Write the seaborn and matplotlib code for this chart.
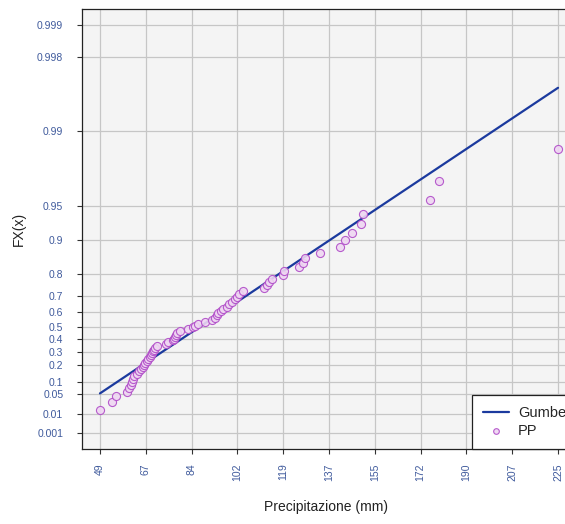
import numpy as np
import matplotlib
matplotlib.use("Agg")
import matplotlib.pyplot as plt
import pandas as pd
import seaborn as sns

# sample values (mm) with their plotting positions
pp_x = [49.0, 53.7, 55.1, 59.3, 60.1, 60.8, 61.4, 61.8, 62.2, 63.1,
        64.0, 64.8, 65.6, 65.9, 66.3, 66.9, 67.6, 68.2, 68.6, 68.9,
        69.5, 69.8, 70.1, 71.0, 74.4, 75.2, 77.2, 77.5, 77.8, 78.2,
        78.7, 79.7, 82.9, 84.6, 85.5, 86.8, 89.4, 91.9, 93.2, 93.8,
        94.5, 95.5, 96.4, 97.7, 98.6, 99.6, 100.9, 101.7, 102.5, 104.1,
        112.0, 113.1, 114.0, 115.0, 119.4, 119.8, 125.5, 127.1, 127.9, 133.6,
        141.4, 143.2, 145.7, 149.3, 150.1, 176.0, 179.2, 225.0]
pp_f = [0.0145, 0.0290, 0.0435, 0.0580, 0.0725, 0.0870, 0.1014, 0.1159, 0.1304, 0.1449,
        0.1594, 0.1739, 0.1884, 0.2029, 0.2174, 0.2319, 0.2464, 0.2609, 0.2754, 0.2899,
        0.3043, 0.3188, 0.3333, 0.3478, 0.3623, 0.3768, 0.3913, 0.4058, 0.4203, 0.4348,
        0.4493, 0.4638, 0.4783, 0.4928, 0.5072, 0.5217, 0.5362, 0.5507, 0.5652, 0.5797,
        0.5942, 0.6087, 0.6232, 0.6377, 0.6522, 0.6667, 0.6812, 0.6957, 0.7101, 0.7246,
        0.7391, 0.7536, 0.7681, 0.7826, 0.7971, 0.8116, 0.8261, 0.8406, 0.8551, 0.8696,
        0.8841, 0.8986, 0.9130, 0.9275, 0.9420, 0.9565, 0.9710, 0.9855]

# fitted Gumbel CDF at the ends of the sample range
gumbel_x = [49.0, 225.0]
gumbel_f = [0.052, 0.9961]

x_tick_labels = ["49", "67", "84", "102", "119", "137", "155", "172", "190", "207", "225"]
y_ticks = [0.001, 0.01, 0.05, 0.1, 0.2, 0.3, 0.4, 0.5, 0.6, 0.7, 0.8, 0.9, 0.95, 0.99, 0.998, 0.999]


def gumbel_fwd(f):
    f = np.clip(np.asarray(f, dtype=float), 1e-12, 1 - 1e-12)
    return -np.log(-np.log(f))


def gumbel_inv(z):
    return np.exp(-np.exp(-np.asarray(z, dtype=float)))


sns.set_style("white")
plt.rcParams["font.family"] = ["Liberation Sans", "DejaVu Sans"]

fig = plt.figure(figsize=(5.65, 5.24), dpi=100)
ax = fig.add_axes([82 / 565, 75 / 524, 488 / 565, 440 / 524])
ax.set_facecolor("#f4f4f4")

pp = pd.DataFrame({"x": pp_x, "F": pp_f})
fit = pd.DataFrame({"x": gumbel_x, "F": gumbel_f})

sns.lineplot(data=fit, x="x", y="F", ax=ax, color="#1b3a9e", linewidth=1.6,
             label="Gumbel", zorder=3)
sns.scatterplot(data=pp, x="x", y="F", ax=ax, marker="o", s=34,
                facecolor="#efd6f2", edgecolor="#b04cc8", linewidth=0.8,
                alpha=0.9, label="PP", zorder=4)

ax.set_yscale("function", functions=(gumbel_fwd, gumbel_inv))
ax.set_ylim(gumbel_inv(-2.29), gumbel_inv(7.254))
ax.set_xlim(42.1, 229.6)

ax.set_xticks(np.linspace(49, 225, 11))
ax.set_xticklabels(x_tick_labels, rotation=90)
ax.set_yticks(y_ticks)
ax.set_yticklabels([f"{v:g}" for v in y_ticks])
ax.minorticks_off()

ax.grid(True, color="#c6c6c6", linewidth=0.9)
ax.set_axisbelow(True)
ax.tick_params(axis="both", direction="out", length=3.5, width=0.8,
               color="#333333", labelcolor="#3f5a9c", labelsize=7.5)
ax.tick_params(axis="x", pad=7)
ax.tick_params(axis="y", pad=10)
ax.tick_params(left=True, bottom=True)

for side in ["left", "top", "bottom", "right"]:
    ax.spines[side].set_color("#222222")
    ax.spines[side].set_linewidth(0.9)

ax.set_xlabel("Precipitazione (mm)", fontsize=10, color="#222222")
ax.set_ylabel("FX(x)", fontsize=10, color="#222222")
ax.xaxis.set_label_coords(0.5, -0.116)
ax.yaxis.set_label_coords(-0.115, 0.5)

leg = ax.legend(loc="lower left", bbox_to_anchor=((472 - 82) / 488, 0.0),
                borderaxespad=0, fontsize=10.5, frameon=True, fancybox=False,
                framealpha=1, edgecolor="#222222", borderpad=0.75,
                labelspacing=0.3, handlelength=1.8, handletextpad=0.6,
                markerscale=0.7)
leg.get_frame().set_linewidth(0.9)

plt.savefig("out.png", dpi=100)
plt.close()
